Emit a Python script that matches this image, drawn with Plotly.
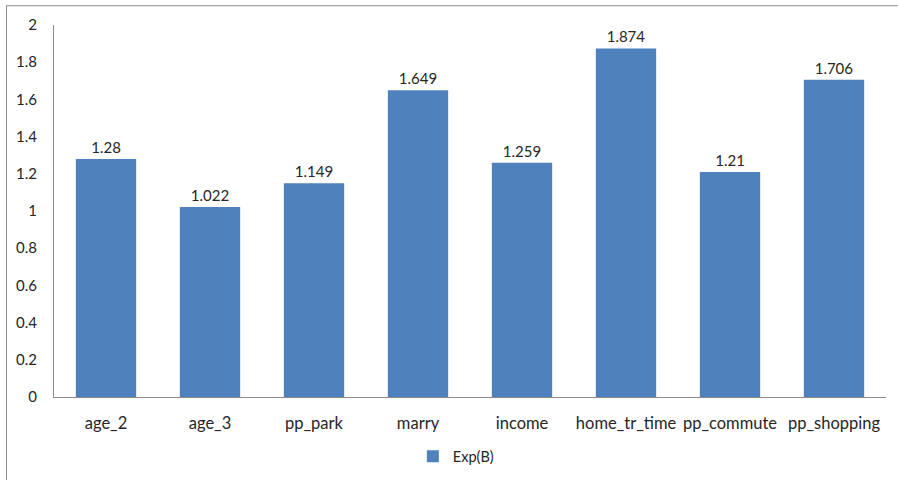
import plotly.graph_objects as go

# Odds ratios per predictor
categories = ["age_2", "age_3", "pp_park", "marry", "income",
              "home_tr_time", "pp_commute", "pp_shopping"]
exp_b = [1.28, 1.022, 1.149, 1.649, 1.259, 1.874, 1.21, 1.706]
y_ticks = [0, 0.2, 0.4, 0.6, 0.8, 1, 1.2, 1.4, 1.6, 1.8, 2]
y_tick_labels = ["0", "0.2", "0.4", "0.6", "0.8", "1", "1.2", "1.4", "1.6", "1.8", "2"]

FONT = "Lato, 'Open Sans', sans-serif"
TEXT = "#262626"
AXIS = "#898989"

fig = go.Figure(
    go.Bar(
        x=categories,
        y=exp_b,
        name="Exp(B)",
        marker=dict(color="#4F81BD", line=dict(width=0)),
        text=[str(v) for v in exp_b],
        textposition="outside",
        textfont=dict(family=FONT, size=15, color=TEXT),
        cliponaxis=False,
    )
)

W, H = 898, 484
L, R, T, B = 54, 12, 25, 82
pw, ph = W - L - R, H - T - B

def px(x):
    return (x - L) / pw

def py(y):
    return (H - B - y) / ph

fig.update_layout(
    width=W,
    height=H,
    margin=dict(l=L, r=R, t=T, b=B),
    paper_bgcolor="white",
    plot_bgcolor="white",
    bargap=0.42,
    font=dict(family=FONT, size=15, color=TEXT),
    showlegend=True,
    legend=dict(
        orientation="h",
        x=0.483,
        xanchor="center",
        y=py(462),
        yanchor="middle",
        font=dict(family=FONT, size=14.5, color=TEXT),
        itemwidth=30,
    ),
    xaxis=dict(
        showline=True,
        linecolor=AXIS,
        linewidth=1,
        showgrid=False,
        ticks="",
        ticklabelstandoff=11,
        tickfont=dict(family=FONT, size=16.5, color=TEXT),
    ),
    yaxis=dict(
        range=[0, 2],
        tickvals=y_ticks,
        ticktext=y_tick_labels,
        showline=True,
        linecolor=AXIS,
        linewidth=1,
        showgrid=False,
        zeroline=False,
        ticks="",
        ticklabelstandoff=13,
        tickfont=dict(family=FONT, size=15, color=TEXT),
    ),
    shapes=[
        # chart-area frame (top and left edges)
        dict(type="line", xref="paper", yref="paper",
             x0=px(6), x1=px(W + 2), y0=py(5.5), y1=py(5.5),
             line=dict(color="#8c8c8c", width=1)),
        dict(type="line", xref="paper", yref="paper",
             x0=px(6.5), x1=px(6.5), y0=py(5.5), y1=py(H + 2),
             line=dict(color="#8c8c8c", width=1)),
    ],
)

fig.write_html("out.html")
